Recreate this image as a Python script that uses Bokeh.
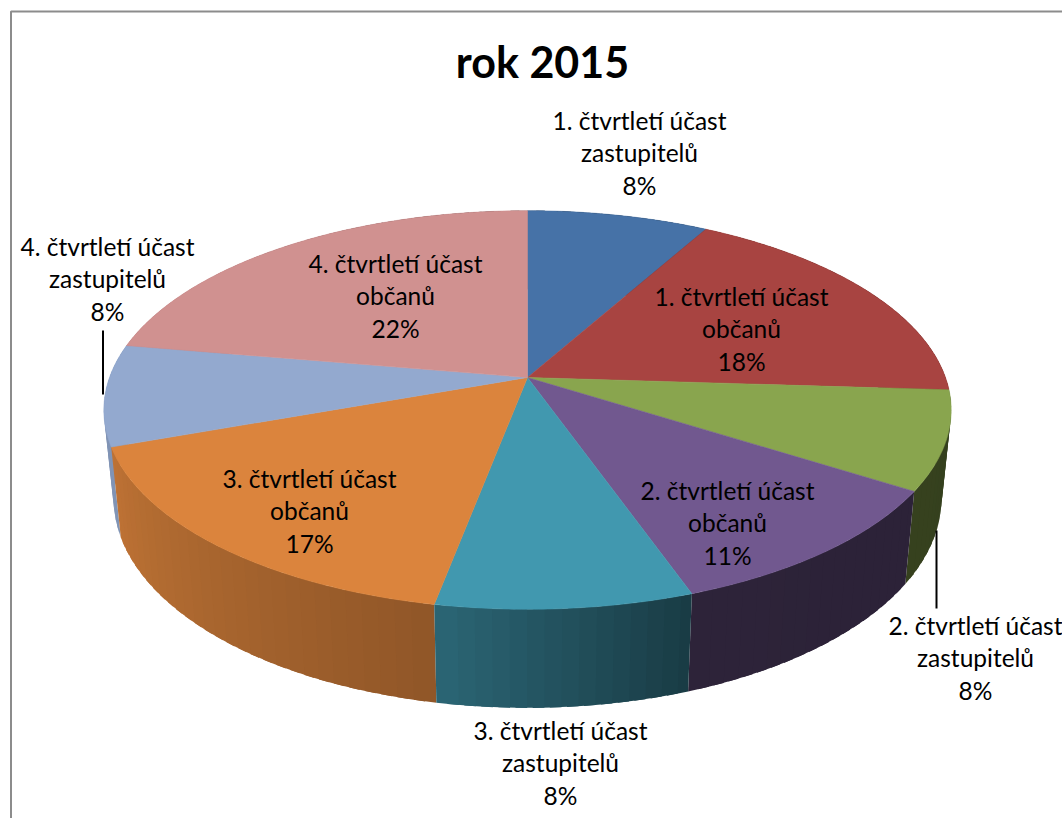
import math
from bokeh.plotting import figure
from bokeh.models import Range1d
from bokeh.core.properties import value
from bokeh.embed import file_html
from bokeh.resources import INLINE

title = "rok 2015"
categories = ["1. čtvrtletí účast zastupitelů", "1. čtvrtletí účast občanů",
              "2. čtvrtletí účast zastupitelů", "2. čtvrtletí účast občanů",
              "3. čtvrtletí účast zastupitelů", "3. čtvrtletí účast občanů",
              "4. čtvrtletí účast zastupitelů", "4. čtvrtletí účast občanů"]
values = [8.1, 17.9, 8.0, 10.6, 8.4, 16.5, 8.2, 22.3]
colors = ["#4672a7", "#a84441", "#89a54e", "#71588f", "#4198af", "#db843d", "#93a9cf", "#d09190"]

label_lines = [
    ["1. čtvrtletí účast", "zastupitelů", "8%"],
    ["1. čtvrtletí účast", "občanů", "18%"],
    ["2. čtvrtletí účast", "zastupitelů", "8%"],
    ["2. čtvrtletí účast", "občanů", "11%"],
    ["3. čtvrtletí účast", "zastupitelů", "8%"],
    ["3. čtvrtletí účast", "občanů", "17%"],
    ["4. čtvrtletí účast", "zastupitelů", "8%"],
    ["4. čtvrtletí účast", "občanů", "22%"],
]
label_x = [639, 741, 975, 727, 560, 309, 107, 395]
label_y = [119.5, 295.5, 624.5, 489.5, 729.5, 477.5, 245.5, 262.5]
LINE = 32.5

W, H = 1062, 818
p = figure(width=W, height=H, output_backend="svg", toolbar_location=None,
           x_range=Range1d(0, W), y_range=Range1d(H, 0),
           min_border=0, outline_line_color=None, background_fill_color="white")
p.axis.visible = False
p.grid.visible = False

# perspective disc
CX, CY, A, B, K = 527, 377, 418, 194, 0.163
S, D = 0.977, 87

def top(t):
    X, Y = math.sin(t), -math.cos(t)
    d = 1 - K * Y
    return CX + A * X / d, CY + B * Y / d

def bottom(t):
    X, Y = math.sin(t), -math.cos(t)
    d = 1 - K * Y
    return CX + S * A * X / d, CY + (S * B * Y + D) / d

def shade(deg):
    pts = [(0, .38), (162, .40), (190, .66), (252, .88), (300, .85), (360, .38)]
    for (a0, s0), (a1, s1) in zip(pts, pts[1:]):
        if a0 <= deg <= a1:
            return s0 + (s1 - s0) * (deg - a0) / (a1 - a0)
    return .4

def dark(col, f):
    r, g, b = (int(col[i:i + 2], 16) for i in (1, 3, 5))
    return "#%02x%02x%02x" % (int(r * f), int(g * f), int(b * f))

total = sum(values)
edges = [0]
for v in values:
    edges.append(edges[-1] + v / total * 2 * math.pi)

# outer walls: overlapping bands inside each slice, so no seams show
order = sorted(range(len(values)), key=lambda i: -math.cos((edges[i] + edges[i + 1]) / 2))
qx, qy, qc = [], [], []
for i in order:
    col = colors[i]
    a0, a1 = edges[i], edges[i + 1]
    n = max(2, int(math.degrees(a1 - a0) / 2))
    steps = list(range(n))
    # paint towards the front so nearer bands sit on top
    if math.cos(a0) < math.cos(a1):
        steps = steps[::-1]
    for j in steps:
        t0 = a0 + (a1 - a0) * j / n
        t1 = a0 + (a1 - a0) * (j + 1) / n
        lo = max(a0, t0 - 0.012)
        hi = min(a1, t1 + 0.012)
        pts = [top(lo), top(hi), bottom(hi), bottom(lo)]
        qx.append([q[0] for q in pts])
        qy.append([q[1] for q in pts])
        qc.append(dark(col, shade(math.degrees((t0 + t1) / 2))))
p.patches(qx, qy, fill_color=qc, line_color=None)

# top slices
xs, ys = [], []
for i in range(len(values)):
    n = 60
    ts = [edges[i] + (edges[i + 1] - edges[i]) * j / n for j in range(n + 1)]
    pts = [(CX, CY)] + [top(t) for t in ts]
    xs.append([q[0] for q in pts])
    ys.append([q[1] for q in pts])
p.patches(xs, ys, fill_color=colors, line_color=colors, line_width=0.5)

# chart border (right and bottom sides lie outside the page)
p.line([10.5, 10.5, W], [H, 11, 11], line_color="#8c8c8c", line_width=2)

# leader lines
p.line([102.5, 102.5], [330, 394], line_color="black", line_width=2)
p.line([936, 936], [530, 608], line_color="black", line_width=2)

# labels
tx, ty, tt = [], [], []
for lines, x, y in zip(label_lines, label_x, label_y):
    for k, s in enumerate(lines):
        tx.append(x); ty.append(y + k * LINE); tt.append(s)
p.text(tx, ty, text=tt, text_font=value("Lato"), text_font_size="24.5px", text_color="black",
       text_align="center", text_baseline="middle")
p.text([542], [60.5], text=[title], text_font=value("Lato"), text_font_size="43px",
       text_font_style="bold", text_color="black", text_align="center", text_baseline="middle")

open("out.html", "w").write(file_html(p, INLINE))
